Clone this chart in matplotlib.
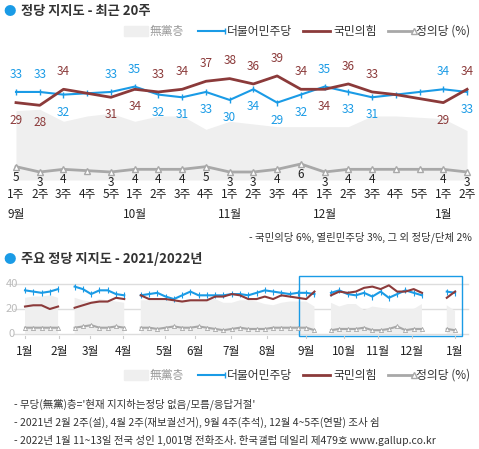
import numpy as np
import matplotlib
matplotlib.use("Agg")
import matplotlib.pyplot as plt
from matplotlib.lines import Line2D
from matplotlib.patches import Rectangle

plt.rcParams['font.family'] = ['Noto Sans CJK KR', 'DejaVu Sans']

BLUE = "#1a9be6"
RED = "#8b3a3a"
GRAY = "#a8a8a8"
AREA = "#efefef"
nan = np.nan

# ---- recent 20 weeks
weeks = ["1주", "2주", "3주", "4주", "5주", "1주", "2주", "3주", "4주", "1주",
         "2주", "3주", "4주", "1주", "2주", "3주", "4주", "5주", "1주", "2주"]
months = {0: "9월", 5: "10월", 9: "11월", 13: "12월", 18: "1월"}
dem = [33, 33, 32, 32.5, 33, 35, 32, 31, 33, 30, 34, 29, 32, 35, 33, 31, 32, 33, 34, 33]
ppp = [29, 28, 34, 32.5, 31, 34, 33, 34, 37, 38, 36, 39, 34, 34, 36, 33, 32, 30.5, 29, 34]
jus = [5, 3, 4, 3.5, 3, 4, 4, 4, 5, 3, 3, 4, 6, 3, 4, 4, 4, 4, 4, 3]
mudang = [26, 26.5, 22, 24, 25, 22, 24, 24, 19, 22, 21, 20, 20, 20, 20, 24, 24, 23.5, 23, 18.5]
interp = [3, 16, 17]  # no survey, not labelled

# ---- 2021/2022 weekly
dem_y = [35, 34, 33, 34, 36, nan, 38, 36, 32, 35, 35, 32, 31, nan,
         31, 32, 33, 30, 28, 31, 34, 31, 31, 31, 31, 32, 32, 31, 33, 35, 34, 33, 32, 33, 33, 32, nan,
         33, 35, 32, 31, 33, 30, 34, 29, 32, 35, 33, 31, nan, nan, 34, 33]
ppp_y = [22, 23, 23, 20, 22, nan, 21, 23, 25, 26, 26, 29, 28, nan,
         31, 28, 28, 28, 27, 26, 27, 27, 27, 30, 30, 32, 31, 28, 28, 30, 28, 31, 30, 29, 28, 34, nan,
         31, 34, 33, 34, 37, 38, 36, 39, 34, 34, 36, 33, nan, nan, 29, 34]
jus_y = [5, 5, 5, 5, 5, nan, 5, 6, 7, 5, 5, 6, 5, nan,
         5, 5, 4, 5, 6, 5, 5, 6, 5, 4, 3, 4, 5, 4, 4, 4, 5, 5, 5, 5, 5, 3, nan,
         3, 4, 4, 4, 5, 3, 3, 4, 6, 3, 4, 4, nan, nan, 4, 3]
mud_y = [29, 30, 30, 31, 29, nan, 29, 27, 26, 28, 27, 26, 25, nan,
         27, 27, 27, 27, 26, 27, 27, 27, 28, 28, 25, 25, 27, 27, 26, 24, 23, 25, 26, 26, 26, 22, nan,
         25, 22, 24, 24, 19, 22, 21, 20, 20, 20, 20, 24, nan, nan, 23, 18.5]
month_pos = [0, 4.1, 7.9, 11.9, 16.9, 20.6, 24.9, 29.3, 34, 38.6, 42.7, 46.8, 52]
month_lab = ["1월", "2월", "3월", "4월", "5월", "6월", "7월", "8월", "9월", "10월", "11월", "12월", "1월"]

W, H = 479, 449
fig = plt.figure(figsize=(W / 100, H / 100), dpi=100)


def fx(px):
    return px / W


def fy(py):
    return 1 - py / H


def legend(y):
    fig.add_artist(Rectangle((fx(124), fy(y + 5)), fx(24), 10 / H, color=AREA, transform=fig.transFigure))
    fig.text(fx(150), fy(y), "無黨층", fontsize=8.5, color="#999999", va="center")
    fig.add_artist(Line2D([fx(198), fx(225)], [fy(y), fy(y)], color=BLUE, lw=1.5, marker="|",
                          markevery=[1], ms=4, transform=fig.transFigure))
    fig.text(fx(227), fy(y), "더불어민주당", fontsize=8.5, color="#333333", va="center")
    fig.add_artist(Line2D([fx(303), fx(330)], [fy(y), fy(y)], color=RED, lw=2, transform=fig.transFigure))
    fig.text(fx(333), fy(y), "국민의힘", fontsize=8.5, color="#333333", va="center")
    fig.add_artist(Line2D([fx(388), fx(414)], [fy(y), fy(y)], color=GRAY, lw=2, marker="^",
                          markevery=[1], ms=4, mfc="white", transform=fig.transFigure))
    fig.text(fx(416), fy(y), "정의당 (%)", fontsize=8.5, color="#333333", va="center")


# titles
fig.text(fx(3), fy(11), "●", color=BLUE, fontsize=9, va="center")
fig.text(fx(21), fy(11), "정당 지지도 - 최근 20주", fontsize=9.5, fontweight="bold", color="#333333", va="center")
legend(31)

# ---- top axes
ax = fig.add_axes([0, fy(180), 1, 115 / H])
x = np.arange(20)
ax.fill_between(x, 0, mudang, color=AREA, lw=0)
ax.plot(x, dem, color=BLUE, lw=1.5, marker="|", ms=5, mew=1)
ax.plot(x, ppp, color=RED, lw=2)
ax.plot(x, jus, color=GRAY, lw=2, marker="^", ms=4, mfc="white", mec=GRAY)
for i in range(20):
    if i in interp:
        continue
    d_up = dem[i] >= ppp[i]
    ax.annotate(str(dem[i]), (i, dem[i]), xytext=(0, 8 if d_up else -8), textcoords="offset points",
                ha="center", va="bottom" if d_up else "top", color=BLUE, fontsize=8.5)
    ax.annotate(str(ppp[i]), (i, ppp[i]), xytext=(0, -8 if d_up else 8), textcoords="offset points",
                ha="center", va="top" if d_up else "bottom", color=RED, fontsize=8.5)
    ax.annotate(str(jus[i]), (i, jus[i]), xytext=(0, -3), textcoords="offset points",
                ha="center", va="top", color="#222222", fontsize=8.5)
ax.set_xlim(-16 / 23.74, (W - 16) / 23.74)
ax.set_ylim(0, 43.1)
ax.axis("off")
for i, w in enumerate(weeks):
    ax.text(i, -5.5, w, ha="center", va="center", fontsize=8.5, color="#222222")
for i, m in months.items():
    ax.text(i, -13, m, ha="center", va="center", fontsize=8.5, color="#222222")
fig.text(fx(472), fy(237), "- 국민의당 6%, 열린민주당 3%, 그 외 정당/단체 2%", ha="right", va="center",
         fontsize=7.5, color="#333333")

# ---- bottom axes
fig.text(fx(3), fy(259), "●", color=BLUE, fontsize=9, va="center")
fig.text(fx(21), fy(259), "주요 정당 지지도 - 2021/2022년", fontsize=9.5, fontweight="bold", color="#333333",
         va="center")
bx = fig.add_axes([0, fy(336), 1, 56 / H])
xb = np.arange(len(dem_y))
m = np.array(mud_y, dtype=float)
bx.fill_between(xb, 0, np.nan_to_num(m), where=~np.isnan(m), color=AREA, lw=0)
for v in (0, 20, 40):
    bx.plot([-1.3, 53.6], [v, v], color="#dddddd", lw=1, zorder=0)
    bx.text(-1.6, v, str(v), ha="center", va="center", fontsize=8, color="#bbbbbb")
bx.plot(xb, dem_y, color=BLUE, lw=1.5, marker="|", ms=4, mew=0.8)
bx.plot(xb, ppp_y, color=RED, lw=1.5)
bx.plot(xb, jus_y, color=GRAY, lw=1.5, marker="^", ms=3, mfc="white", mec=GRAY, mew=0.6)
for p, lab in zip(month_pos, month_lab):
    bx.plot([p, p], [-1.5, -3.5], color="#cccccc", lw=0.8, clip_on=False)
    bx.text(p, -14, lab, ha="center", va="center", fontsize=8.5, color="#222222")
bx.add_patch(Rectangle((33.1, -1.3), 19.7, 47.5, fill=False, ec=BLUE, lw=1, clip_on=False))
bx.set_xlim(-25 / 8.27, (W - 25) / 8.27)
bx.set_ylim(-1.67, 43.3)
bx.axis("off")
legend(375)

notes = ["- 무당(無黨)층='현재 지지하는정당 없음/모름/응답거절'",
         "- 2021년 2월 2주(설), 4월 2주(재보궐선거), 9월 4주(추석), 12월 4~5주(연말) 조사 쉼",
         "- 2022년 1월 11~13일 전국 성인 1,001명 전화조사. 한국갤럽 데일리 제479호 www.gallup.co.kr"]
for k, t in enumerate(notes):
    fig.text(fx(14), fy(404 + 18 * k), t, fontsize=7.5, color="#333333", va="center")

fig.savefig("out.png", dpi=100, facecolor="white")
